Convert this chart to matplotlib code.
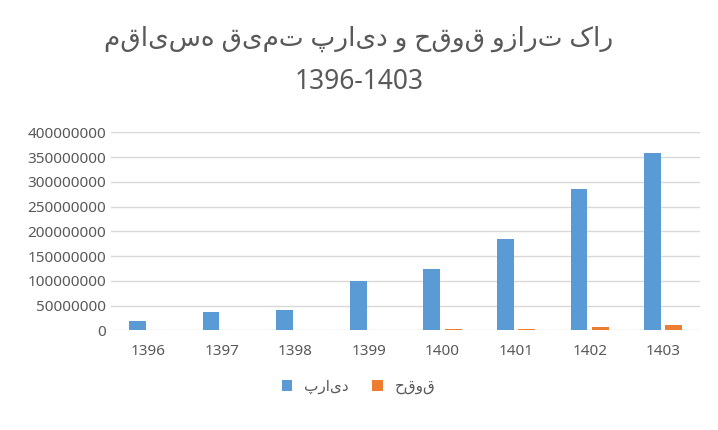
import matplotlib.pyplot as plt
import numpy as np

years = ["1396", "1397", "1398", "1399", "1400", "1401", "1402", "1403"]
pride = [19000000, 36000000, 40000000, 100000000, 124000000, 184000000, 286000000, 359000000]
salary = [0, 0, 0, 0, 2700000, 2700000, 6500000, 11000000]

plt.rcParams['font.family'] = ['Noto Sans', 'DejaVu Sans']

fig = plt.figure(figsize=(7.18, 4.30), dpi=100)
ax = fig.add_axes([0.155, 0.232, 0.82, 0.46])

x = np.arange(len(years))
w = 0.23
ax.bar(x - 0.145, pride, w, color='#5b9bd5', label='پراید', zorder=3)
ax.bar(x + 0.145, salary, w, color='#ed7d31', label='حقوق', zorder=3)

ax.set_ylim(0, 400000000)
ax.set_yticks(range(0, 400000001, 50000000))
ax.set_yticklabels([str(v) for v in range(0, 400000001, 50000000)])
ax.set_xlim(-0.5, len(years) - 0.5)
ax.set_xticks(x)
ax.set_xticklabels(years)
ax.grid(axis='y', color='#d9d9d9', linewidth=1, zorder=0)
for s in ['top', 'right', 'left', 'bottom']:
    ax.spines[s].set_visible(False)
ax.tick_params(length=0, labelsize=11, colors='#595959')
ax.tick_params(axis='x', pad=10)

fig.text(0.5, 0.91, 'مقایسه قیمت پراید و حقوق وزارت کار', ha='center', va='center',
         fontsize=19, color='#595959')
fig.text(0.5, 0.81, '1396-1403', ha='center', va='center', fontsize=19, color='#595959')

ax.legend(loc='upper center', bbox_to_anchor=(0.42, -0.18), ncol=2, frameon=False,
          fontsize=11, labelcolor='#595959', handlelength=0.7, handleheight=0.7,
          columnspacing=1.5)

fig.savefig('out.png')
